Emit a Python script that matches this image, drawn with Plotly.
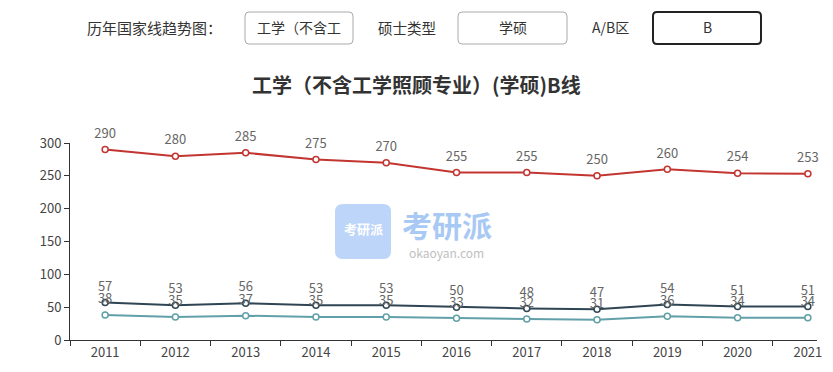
import plotly.graph_objects as go

years = ["2011", "2012", "2013", "2014", "2015", "2016", "2017", "2018", "2019", "2020", "2021"]
total_scores = [290, 280, 285, 275, 270, 255, 255, 250, 260, 254, 253]
score_100 = [57, 53, 56, 53, 53, 50, 48, 47, 54, 51, 51]
score_150 = [38, 35, 37, 35, 35, 33, 32, 31, 36, 34, 34]
series_names = ["总分", "单科(满分=100分)", "单科(满分>100分)"]
series_colors = ["#c23531", "#2f4554", "#61a0a8"]
y_ticks = [0, 50, 100, 150, 200, 250, 300]

W, H = 833, 372
OFF = 8  # default page body margin
L, R, T, B = 70, 817, 143, 340  # plot area in page pixels
FONT = "Noto Sans CJK SC, Microsoft YaHei, sans-serif"


def px(x):
    return (x - L) / (R - L)


def py(y):
    return (B - y) / (B - T)


fig = go.Figure()
for name, vals, col in zip(series_names, [total_scores, score_100, score_150], series_colors):
    fig.add_trace(go.Scatter(
        x=years, y=vals, name=name, mode="lines+markers",
        line=dict(color=col, width=2),
        marker=dict(symbol="circle", size=6, color="white", line=dict(color=col, width=1.5)),
        cliponaxis=False, showlegend=False, hoverinfo="x+y",
    ))
for name, vals in zip(series_names, [total_scores, score_100, score_150]):
    fig.add_trace(go.Scatter(
        x=years, y=vals, name=name + " 标签", mode="markers+text",
        text=[str(v) for v in vals], textposition="top center",
        textfont=dict(size=13, color="#666", family=FONT),
        marker=dict(size=12, opacity=0),
        cliponaxis=False, showlegend=False, hoverinfo="skip",
    ))


def rrect(cx, cy, w, h, r, color, width, fill="rgba(0,0,0,0)", layer="above"):
    a, b = w / 2, h / 2
    path = (f"M {-a + r},{-b} L {a - r},{-b} Q {a},{-b} {a},{-b + r} "
            f"L {a},{b - r} Q {a},{b} {a - r},{b} L {-a + r},{b} Q {-a},{b} {-a},{b - r} "
            f"L {-a},{-b + r} Q {-a},{-b} {-a + r},{-b} Z")
    return dict(type="path", xref="paper", yref="paper", xsizemode="pixel", ysizemode="pixel",
                xanchor=px(cx), yanchor=py(cy), path=path,
                line=dict(color=color, width=width), fillcolor=fill, layer=layer)


shapes = [
    rrect(299, 28, 108, 32, 4, "#aaaaaa", 1),
    rrect(512.5, 28, 109, 32, 4, "#aaaaaa", 1),
    rrect(707, 28, 108, 32, 4, "#222222", 2),
    rrect(363, 231.5, 56, 55, 8, "rgba(0,0,0,0)", 0, fill="#bcd5f8", layer="below"),
]

annos = [
    dict(text="历年国家线趋势图：", x=px(85), y=py(27), xanchor="left", font=dict(size=15, color="#333")),
    dict(text="工学（不含工", x=px(299), y=py(27), xanchor="center", font=dict(size=14, color="#333")),
    dict(text="硕士类型", x=px(376), y=py(27), xanchor="left", font=dict(size=14.5, color="#333")),
    dict(text="学硕", x=px(512.5), y=py(27), xanchor="center", font=dict(size=14, color="#333")),
    dict(text="A/B区", x=px(590), y=py(27), xanchor="left", font=dict(size=14, color="#333")),
    dict(text="B", x=px(707), y=py(27), xanchor="center", font=dict(size=14, color="#333")),
    dict(text="<b>工学（不含工学照顾专业）(学硕)B线</b>", x=px(416), y=py(84), xanchor="center",
         font=dict(size=20, color="#333")),
    dict(text="<b>考研派</b>", x=px(363), y=py(228), xanchor="center", font=dict(size=13, color="white")),
    dict(text="<b>考研派</b>", x=px(447), y=py(224), xanchor="center", font=dict(size=30, color="#a9c9f5")),
    dict(text="okaoyan.com", x=px(447), y=py(252), xanchor="center", font=dict(size=12, color="#c0c0c0")),
]
for a in annos:
    a.update(xref="paper", yref="paper", yanchor="middle", showarrow=False)
    a["font"]["family"] = FONT

fig.update_layout(
    width=W, height=H,
    margin=dict(l=L - OFF, r=W - (R - OFF), t=T - OFF, b=H - (B - OFF)),
    plot_bgcolor="white", paper_bgcolor="white",
    font=dict(family=FONT, color="#333"),
    shapes=shapes, annotations=annos,
    xaxis=dict(type="category", range=[-0.5, 10.13], tickson="boundaries",
               showline=True, linecolor="#333", linewidth=1, ticks="outside", ticklen=5,
               tickcolor="#333", showgrid=False, zeroline=False,
               tickfont=dict(size=13, color="#444")),
    yaxis=dict(range=[0, 300], tickvals=y_ticks, showline=True, linecolor="#333", linewidth=1,
               ticks="outside", ticklen=5, tickcolor="#333", showgrid=False, zeroline=False,
               tickfont=dict(size=13, color="#444")),
)

fig.write_html("out.html")
